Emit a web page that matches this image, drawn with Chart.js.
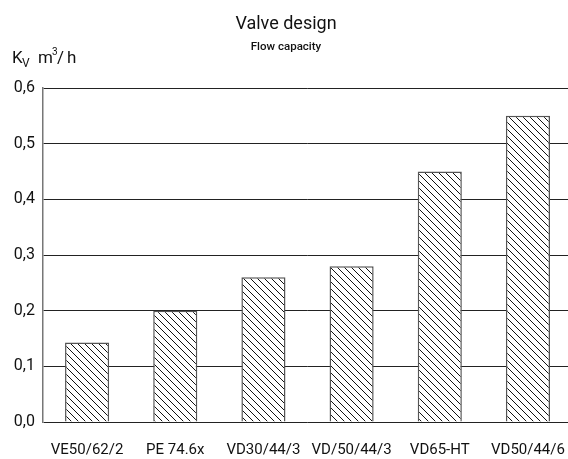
<!DOCTYPE html>
<html>
<head>
<meta charset="utf-8">
<script src="https://cdn.jsdelivr.net/npm/chart.js@4/dist/chart.umd.min.js"></script>
<style>
  html, body { margin: 0; padding: 0; background: #fff; overflow: hidden; }
  canvas { display: block; }
</style>
</head>
<body>
<canvas id="kvChart" width="576" height="459"></canvas>
<script>
// Data
const valves = ['VE50/62/2', 'PE 74.6x', 'VD30/44/3', 'VD/50/44/3', 'VD65-HT', 'VD50/44/6'];
const kvValues = [0.143, 0.2, 0.26, 0.28, 0.45, 0.55];
const yTicks = [0, 0.1, 0.2, 0.3, 0.4, 0.5, 0.6];

const FONT = 'Roboto, "Liberation Sans", sans-serif';

// Diagonal hatch fill for the bars
function hatch() {
  const s = 7;
  const c = document.createElement('canvas');
  c.width = s;
  c.height = s;
  const g = c.getContext('2d');
  g.fillStyle = '#fff';
  g.fillRect(0, 0, s, s);
  g.strokeStyle = '#111';
  g.lineWidth = 1;
  g.beginPath();
  g.moveTo(0, 0); g.lineTo(s, s);
  g.moveTo(-1, s - 1); g.lineTo(1, s + 1);
  g.moveTo(s - 1, -1); g.lineTo(s + 1, 1);
  g.stroke();
  return g.createPattern(c, 'repeat');
}

const ctx = document.getElementById('kvChart').getContext('2d');

// Title, subtitle and unit label
const headings = {
  id: 'headings',
  afterDraw(chart) {
    const c = chart.ctx;
    c.save();
    c.fillStyle = '#111';
    c.textBaseline = 'alphabetic';
    c.textAlign = 'center';
    c.font = '18px ' + FONT;
    c.fillText('Valve design', 286, 29);
    c.font = '500 11.5px ' + FONT;
    c.fillText('Flow capacity', 286, 50);

    c.textAlign = 'left';
    c.font = '17px ' + FONT;
    c.fillText('K', 12, 63);
    c.font = '12px ' + FONT;
    c.fillText('V', 22, 67);
    c.font = '17px ' + FONT;
    c.fillText('m', 38, 63);
    c.font = '10px ' + FONT;
    c.fillText('3', 52, 55);
    c.font = '17px ' + FONT;
    c.fillText('/', 57, 63);
    c.fillText('h', 67, 63);
    c.restore();
  }
};

const kvChart = new Chart(ctx, {
  type: 'bar',
  data: {
    labels: valves,
    datasets: [{
      data: kvValues,
      backgroundColor: hatch(),
      borderColor: '#555',
      borderWidth: 1.5,
      categoryPercentage: 1,
      barPercentage: 0.5
    }]
  },
  options: {
    responsive: false,
    animation: false,
    layout: { padding: { top: 88, right: 1, left: 0, bottom: 0 } },
    plugins: {
      legend: { display: false },
      tooltip: { enabled: false }
    },
    scales: {
      x: {
        grid: { display: false },
        border: { display: false },
        ticks: {
          color: '#111',
          font: { family: FONT, size: 15 },
          padding: 11,
          autoSkip: false,
          maxRotation: 0
        },
        afterFit: (scale) => { scale.height = 37; }
      },
      y: {
        min: 0,
        max: 0.6,
        afterBuildTicks: (scale) => {
          scale.ticks = yTicks.map(v => ({ value: v }));
        },
        ticks: {
          color: '#111',
          font: { family: FONT, size: 16 },
          padding: 8,
          callback: (v) => v.toFixed(1).replace('.', ',')
        },
        grid: { color: '#222', lineWidth: 1, drawTicks: false },
        border: { color: '#777', width: 1.5 },
        afterFit: (scale) => { scale.width = 43; }
      }
    }
  },
  plugins: [headings]
});
</script>
</body>
</html>
